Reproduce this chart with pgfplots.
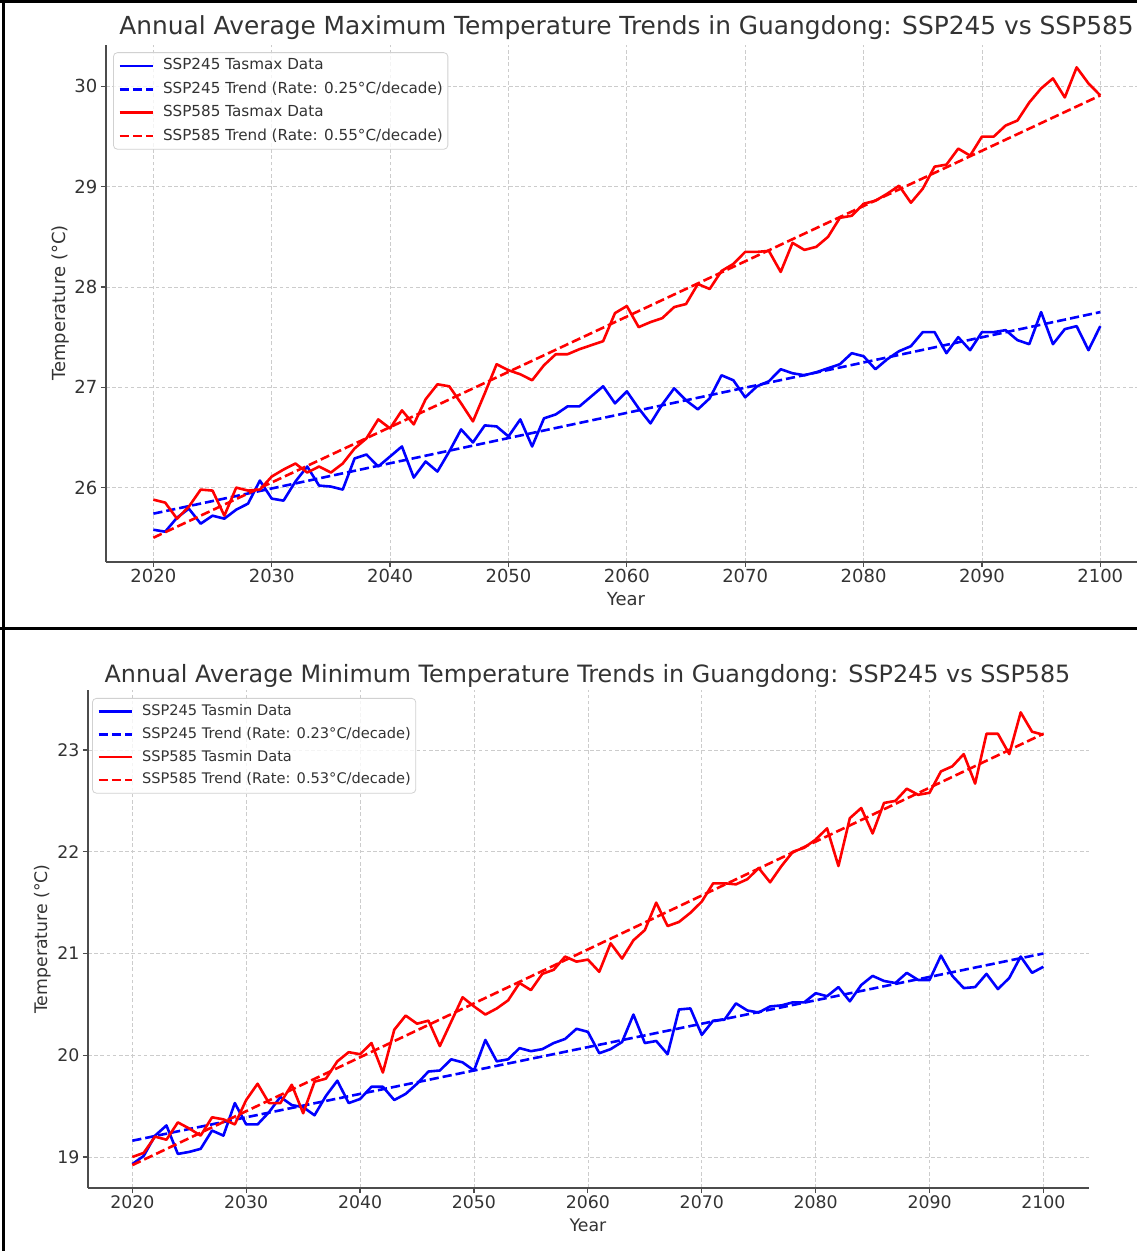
\documentclass[border=0pt]{standalone}
\usepackage{pgfplots}
\pgfplotsset{compat=1.18}
\usepackage{pgfplotstable}
\usepackage{fontspec}
\setmainfont{DejaVu Sans}

\pgfplotstableread{
year s245 s585
2020 25.58 25.88
2021 25.56 25.85
2022 25.70 25.69
2023 25.79 25.81
2024 25.64 25.98
2025 25.72 25.97
2026 25.69 25.72
2027 25.78 26.00
2028 25.84 25.97
2029 26.07 25.98
2030 25.89 26.11
2031 25.87 26.18
2032 26.06 26.24
2033 26.21 26.15
2034 26.02 26.21
2035 26.01 26.15
2036 25.98 26.24
2037 26.29 26.39
2038 26.33 26.49
2039 26.21 26.68
2040 26.31 26.59
2041 26.41 26.77
2042 26.10 26.63
2043 26.26 26.88
2044 26.16 27.03
2045 26.36 27.01
2046 26.58 26.84
2047 26.45 26.66
2048 26.62 26.94
2049 26.61 27.23
2050 26.51 27.17
2051 26.68 27.13
2052 26.41 27.07
2053 26.69 27.22
2054 26.73 27.33
2055 26.81 27.33
2056 26.81 27.38
2057 26.91 27.42
2058 27.01 27.46
2059 26.84 27.74
2060 26.96 27.81
2061 26.79 27.60
2062 26.64 27.65
2063 26.83 27.69
2064 26.99 27.80
2065 26.87 27.83
2066 26.78 28.03
2067 26.89 27.98
2068 27.12 28.16
2069 27.07 28.23
2070 26.90 28.35
2071 27.01 28.35
2072 27.06 28.36
2073 27.18 28.15
2074 27.14 28.44
2075 27.12 28.37
2076 27.15 28.40
2077 27.19 28.50
2078 27.23 28.69
2079 27.34 28.71
2080 27.31 28.83
2081 27.18 28.86
2082 27.28 28.93
2083 27.36 29.01
2084 27.41 28.84
2085 27.55 28.98
2086 27.55 29.20
2087 27.34 29.22
2088 27.50 29.38
2089 27.37 29.31
2090 27.55 29.50
2091 27.55 29.50
2092 27.57 29.61
2093 27.47 29.66
2094 27.43 29.84
2095 27.75 29.98
2096 27.43 30.08
2097 27.58 29.89
2098 27.61 30.19
2099 27.37 30.03
2100 27.61 29.91
}\tasmax

\pgfplotstableread{
year s245 s585
2020 18.93 19.00
2021 19.01 19.04
2022 19.21 19.20
2023 19.31 19.17
2024 19.03 19.34
2025 19.05 19.28
2026 19.08 19.21
2027 19.26 19.39
2028 19.21 19.37
2029 19.53 19.32
2030 19.32 19.56
2031 19.32 19.72
2032 19.44 19.53
2033 19.59 19.53
2034 19.51 19.71
2035 19.49 19.43
2036 19.41 19.74
2037 19.60 19.77
2038 19.75 19.94
2039 19.53 20.03
2040 19.57 20.01
2041 19.69 20.12
2042 19.69 19.83
2043 19.56 20.25
2044 19.62 20.39
2045 19.72 20.31
2046 19.84 20.34
2047 19.85 20.09
2048 19.96 20.33
2049 19.93 20.57
2050 19.85 20.48
2051 20.15 20.40
2052 19.94 20.46
2053 19.96 20.54
2054 20.07 20.71
2055 20.04 20.64
2056 20.06 20.80
2057 20.12 20.84
2058 20.16 20.97
2059 20.26 20.92
2060 20.23 20.94
2061 20.02 20.82
2062 20.06 21.10
2063 20.13 20.95
2064 20.40 21.13
2065 20.12 21.23
2066 20.14 21.50
2067 20.01 21.27
2068 20.45 21.31
2069 20.46 21.40
2070 20.20 21.51
2071 20.34 21.69
2072 20.35 21.69
2073 20.51 21.68
2074 20.44 21.73
2075 20.42 21.84
2076 20.48 21.70
2077 20.49 21.86
2078 20.52 22.00
2079 20.52 22.04
2080 20.61 22.12
2081 20.58 22.23
2082 20.67 21.86
2083 20.53 22.33
2084 20.69 22.43
2085 20.78 22.18
2086 20.73 22.48
2087 20.71 22.50
2088 20.81 22.62
2089 20.74 22.56
2090 20.74 22.58
2091 20.98 22.79
2092 20.78 22.84
2093 20.66 22.96
2094 20.67 22.67
2095 20.80 23.16
2096 20.65 23.16
2097 20.76 22.96
2098 20.97 23.37
2099 20.81 23.18
2100 20.87 23.15
}\tasmin

\definecolor{txt}{HTML}{333333}
\pgfplotsset{
  panel/.style={
    scale only axis,
    axis lines*=left,
    axis line style={black!70, line width=0.65pt},
    tick align=outside,
    major tick length=2.6pt,
    tick style={black!70, line width=0.6pt},
    grid=major,
    grid style={gray!40, line width=0.35pt, dash pattern=on 1.8pt off 1.3pt},
    /pgf/number format/1000 sep={},
    /pgf/number format/assume math mode=true,
    xtick={2020,2030,...,2100},
    ticklabel style={text=txt},
    xticklabel style={yshift=2.5pt},
    yticklabel style={xshift=1.8pt},
    legend style={draw=black!18, line width=0.4pt, fill=white, fill opacity=0.8,
      draw opacity=1, text opacity=1, rounded corners=2pt, text=txt,
      nodes={inner sep=0pt, text height=5.6pt, text depth=1.6pt},
      cells={anchor=west}, column sep=4.5pt, inner xsep=2.5pt, inner ysep=3pt},
    legend image code/.code={\draw[##1] (0pt,0pt) -- (16.5pt,0pt);},
  },
}

\begin{document}
\begin{tikzpicture}
\useasboundingbox (0,0) rectangle (568.5pt,-625.5pt);

% ---------- top panel ----------
\begin{axis}[panel,
  at={(53pt,-281pt)}, anchor=south west,
  width=515.5pt, height=258.5pt,
  xmin=2016.0, xmax=2103.1, ymin=25.258, ymax=30.413,
  ytick={26,27,28,29,30},
  ticklabel style={font=\fontsize{9}{11}\selectfont},
  legend style={at={(axis description cs:0.0068,0.986)}, anchor=north west,
    font=\fontsize{7.6}{9}\selectfont, row sep=4.5pt},
]
\addplot[blue, line width=1.3pt, line join=round] table[x=year, y=s245] {\tasmax};
\addlegendentry{SSP245 Tasmax Data}
\addplot[blue, line width=1.3pt, dash pattern=on 4.6pt off 2pt] coordinates {(2020,25.74) (2100,27.75)};
\addlegendentry{SSP245 Trend (Rate: 0.25°C/decade)}
\addplot[red, line width=1.3pt, line join=round] table[x=year, y=s585] {\tasmax};
\addlegendentry{SSP585 Tasmax Data}
\addplot[red, line width=1.3pt, dash pattern=on 4.6pt off 2pt] coordinates {(2020,25.50) (2100,29.91)};
\addlegendentry{SSP585 Trend (Rate: 0.55°C/decade)}
\end{axis}

% ---------- bottom panel ----------
\begin{axis}[panel,
  at={(44pt,-594pt)}, anchor=south west,
  width=500.5pt, height=249pt,
  xmin=2016.11, xmax=2104.0, ymin=18.695, ymax=23.59,
  ytick={19,20,21,22,23},
  ticklabel style={font=\fontsize{8.66}{10.5}\selectfont},
  legend style={at={(axis description cs:0.004,0.984)}, anchor=north west,
    font=\fontsize{7.3}{8.6}\selectfont, row sep=4.2pt},
]
\addplot[blue, line width=1.3pt, line join=round] table[x=year, y=s245] {\tasmin};
\addlegendentry{SSP245 Tasmin Data}
\addplot[blue, line width=1.3pt, dash pattern=on 4.6pt off 2pt] coordinates {(2020,19.16) (2100,21.00)};
\addlegendentry{SSP245 Trend (Rate: 0.23°C/decade)}
\addplot[red, line width=1.3pt, line join=round] table[x=year, y=s585] {\tasmin};
\addlegendentry{SSP585 Tasmin Data}
\addplot[red, line width=1.3pt, dash pattern=on 4.6pt off 2pt] coordinates {(2020,18.92) (2100,23.16)};
\addlegendentry{SSP585 Trend (Rate: 0.53°C/decade)}
\end{axis}

% titles and labels
\node[anchor=base, text=txt, font=\fontsize{12.43}{14}\selectfont] at (313.25pt,-17.5pt)
  {Annual Average Maximum Temperature Trends in Guangdong: SSP245 vs SSP585};
\node[anchor=base, text=txt, font=\fontsize{9}{11}\selectfont] at (313pt,-302.5pt) {Year};
\node[anchor=base, rotate=90, text=txt, font=\fontsize{9}{11}\selectfont] at (32.5pt,-151.5pt) {Temperature (°C)};

\node[anchor=base, text=txt, font=\fontsize{11.92}{14}\selectfont] at (293.75pt,-341pt)
  {Annual Average Minimum Temperature Trends in Guangdong: SSP245 vs SSP585};
\node[anchor=base, text=txt, font=\fontsize{8.66}{10.5}\selectfont] at (294pt,-615.5pt) {Year};
\node[anchor=base, rotate=90, text=txt, font=\fontsize{8.66}{10.5}\selectfont] at (23.8pt,-469.5pt) {Temperature (°C)};

% panel frames
\draw[line width=1.3pt] (0pt,-0.65pt) -- (568.5pt,-0.65pt);
\draw[line width=1.3pt] (1.85pt,0pt) -- (1.85pt,-625.5pt);
\draw[line width=1.3pt] (0pt,-314.3pt) -- (568.5pt,-314.3pt);
\end{tikzpicture}
\end{document}
